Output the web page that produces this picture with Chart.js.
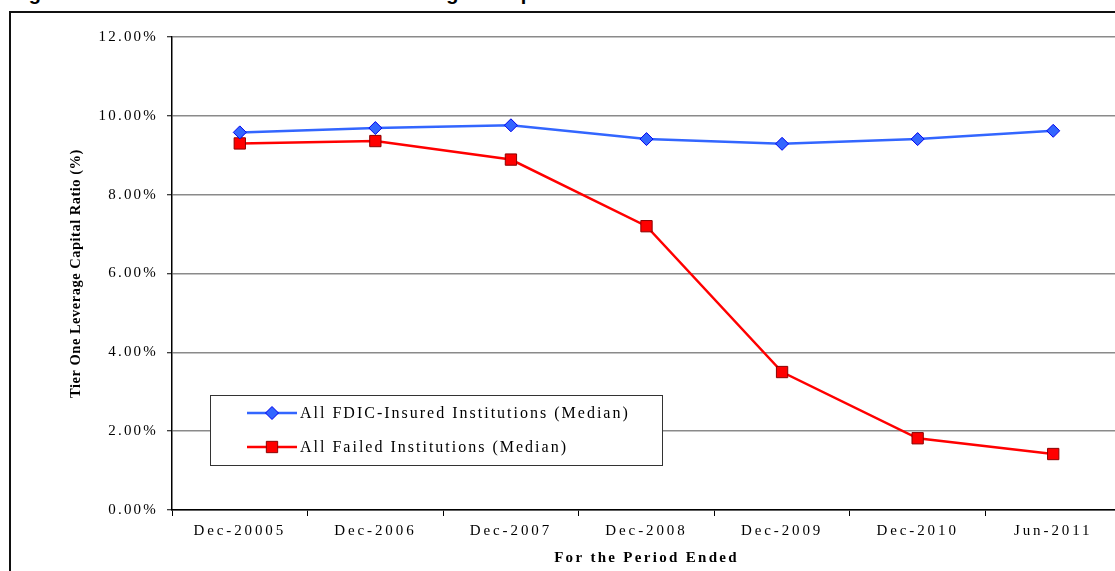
<!DOCTYPE html>
<html>
<head>
<meta charset="utf-8">
<script src="https://cdn.jsdelivr.net/npm/chart.js@4.4.1/dist/chart.umd.min.js"></script>
<style>
  html, body { margin: 0; padding: 0; background: #fff; overflow: hidden; width: 1115px; height: 571px; }
  #heading {
    position: absolute; left: 3px; top: -17px; margin: 0;
    font: bold 20px/20px "Liberation Sans", Arial, sans-serif;
    letter-spacing: 4px; white-space: nowrap; color: #000;
  }
  #frame {
    position: absolute; left: 9px; top: 11px; width: 1200px; height: 700px;
    border: 2px solid #111; box-sizing: border-box;
  }
  #chart { position: absolute; left: 0; top: 0; }
</style>
</head>
<body>
<h1 id="heading">Figure 5: Median Tier One Leverage Capital Ratios</h1>
<div id="frame"></div>
<canvas id="chart" width="1130" height="571"></canvas>
<script>
// Periods on the category axis
const categories = ['Dec-20005', 'Dec-2006', 'Dec-2007', 'Dec-2008', 'Dec-2009', 'Dec-2010', 'Jun-2011'];

// Median Tier One leverage capital ratio, in percent
const fdicInsuredMedian = [9.58, 9.69, 9.76, 9.41, 9.29, 9.41, 9.62];
const failedMedian      = [9.30, 9.36, 8.89, 7.20, 3.50, 1.82, 1.42];

// Value-axis ticks, in percent
const yTickValues = [0, 2, 4, 6, 8, 10, 12];

const seriesNames = ['All FDIC-Insured Institutions (Median)', 'All Failed Institutions (Median)'];

const SERIF = '"Liberation Serif", "Times New Roman", serif';

// Per-axis glyph spacing for tick labels and axis titles
const textSpacing = {
  id: 'textSpacing',
  beforeDraw(chart, args, opts) {
    Object.keys(opts.axes || {}).forEach((id) => {
      const scale = chart.scales[id];
      const sp = opts.axes[id];
      if (!scale || scale._spacingWrapped) return;
      const wrap = (name, spacing) => {
        const base = scale[name].bind(scale);
        scale[name] = function (...a) {
          const ctx = this.ctx;
          const prev = ctx.letterSpacing;
          ctx.letterSpacing = spacing;
          base(...a);
          ctx.letterSpacing = prev;
        };
      };
      wrap('drawLabels', sp.labels);
      wrap('drawTitle', sp.title);
      scale._spacingWrapped = true;
    });
  }
};

// Framed legend sitting inside the plot area
const boxLegend = {
  id: 'boxLegend',
  afterDraw(chart, args, o) {
    const ctx = chart.ctx;
    ctx.save();
    ctx.fillStyle = '#fff';
    ctx.fillRect(o.left, o.top, o.width, o.height);
    ctx.strokeStyle = o.borderColor;
    ctx.lineWidth = 1;
    ctx.strokeRect(o.left + 0.5, o.top + 0.5, o.width, o.height);
    ctx.font = o.font;
    ctx.letterSpacing = o.spacing;
    ctx.textBaseline = 'middle';
    chart.data.datasets.forEach((ds, i) => {
      const y = o.top + o.firstRow + i * o.rowGap;
      const x0 = o.left + o.sampleStart;
      const x1 = x0 + o.sampleLength;
      ctx.strokeStyle = ds.borderColor;
      ctx.lineWidth = ds.borderWidth;
      ctx.beginPath();
      ctx.moveTo(x0, y);
      ctx.lineTo(x1, y);
      ctx.stroke();
      ctx.fillStyle = ds.pointBackgroundColor;
      ctx.strokeStyle = ds.pointBorderColor;
      ctx.lineWidth = ds.pointBorderWidth;
      Chart.helpers.drawPoint(ctx, {
        pointStyle: ds.pointStyle, radius: ds.pointRadius,
        borderWidth: ds.pointBorderWidth, rotation: 0
      }, (x0 + x1) / 2, y);
      ctx.fillStyle = '#000';
      ctx.textAlign = 'left';
      ctx.fillText(ds.label, o.left + o.textStart, y + 1);
    });
    ctx.restore();
  }
};

new Chart(document.getElementById('chart'), {
  type: 'line',
  data: {
    labels: categories,
    datasets: [
      {
        label: seriesNames[0],
        data: fdicInsuredMedian,
        borderColor: '#3366FF',
        borderWidth: 2.5,
        pointStyle: 'rectRot',
        pointRadius: 6.5,
        pointBackgroundColor: '#3366FF',
        pointBorderColor: '#0000EE',
        pointBorderWidth: 1,
        tension: 0
      },
      {
        label: seriesNames[1],
        data: failedMedian,
        borderColor: '#FF0000',
        borderWidth: 2.5,
        pointStyle: 'rect',
        pointRadius: 8,
        pointBackgroundColor: '#FF0000',
        pointBorderColor: '#8B0000',
        pointBorderWidth: 1,
        tension: 0
      }
    ]
  },
  options: {
    responsive: false,
    animation: false,
    devicePixelRatio: 1,
    layout: { padding: { top: 37, right: 9, left: 0, bottom: 0 } },
    plugins: {
      legend: { display: false },
      tooltip: { enabled: false },
      textSpacing: {
        axes: {
          x: { labels: '2.9px', title: '2.3px' },
          y: { labels: '2.2px', title: '0.5px' }
        }
      },
      boxLegend: {
        left: 210, top: 395, width: 452, height: 70,
        firstRow: 18, rowGap: 34,
        sampleStart: 37, sampleLength: 50, textStart: 90,
        borderColor: '#333',
        font: '16px ' + SERIF,
        spacing: '2px'
      }
    },
    scales: {
      x: {
        type: 'category',
        offset: true,
        afterFit: (scale) => { scale.height = 61; },
        grid: {
          offset: true,
          drawOnChartArea: false,
          drawTicks: true,
          tickLength: 6,
          tickColor: '#000',
          tickWidth: 1
        },
        border: { display: true, color: '#000', width: 1.5 },
        ticks: {
          font: { family: SERIF, size: 15 },
          color: '#000',
          padding: 6,
          maxRotation: 0,
          autoSkip: false
        },
        title: {
          display: true,
          text: 'For the Period Ended',
          font: { family: SERIF, size: 15, weight: 'bold' },
          color: '#000',
          padding: { top: 0, bottom: 4 }
        }
      },
      y: {
        min: 0,
        max: 12,
        afterFit: (scale) => { scale.width = 172; },
        afterBuildTicks: (scale) => { scale.ticks = yTickValues.map(v => ({ value: v })); },
        grid: {
          color: '#8a8a8a',
          lineWidth: 1.5,
          drawTicks: true,
          tickLength: 5,
          tickColor: '#000',
          tickWidth: 1
        },
        border: { display: true, color: '#000', width: 1.5 },
        ticks: {
          font: { family: SERIF, size: 15 },
          color: '#000',
          padding: 9,
          callback: (v) => Number(v).toFixed(2) + '%'
        },
        title: {
          display: true,
          text: 'Tier One Leverage Capital Ratio (%)',
          font: { family: SERIF, size: 14.5, weight: 'bold' },
          color: '#000',
          padding: { top: 68, bottom: 0 }
        }
      }
    }
  },
  plugins: [textSpacing, boxLegend]
});
</script>
</body>
</html>
